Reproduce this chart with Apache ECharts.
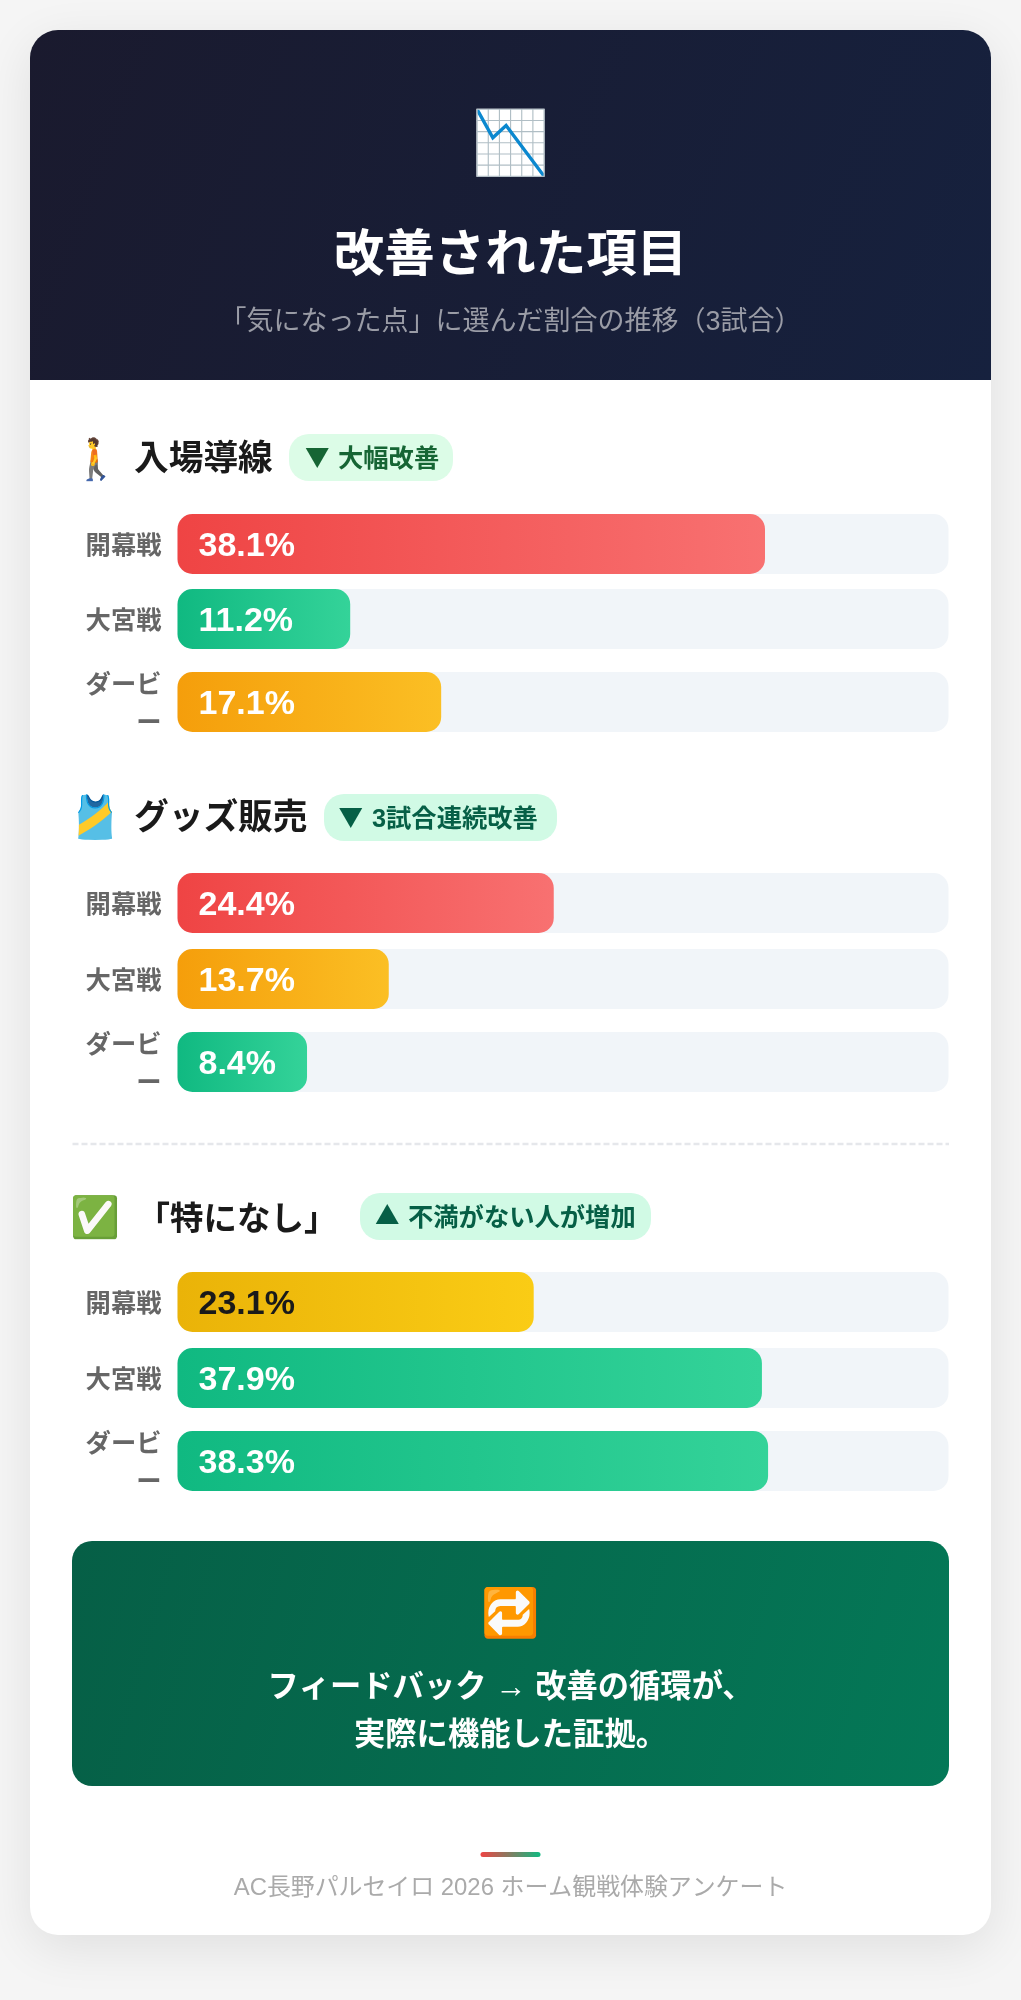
<!DOCTYPE html>
<html lang="ja"><head><meta charset="utf-8">
<style>html,body{margin:0;padding:0;background:#f5f5f5}#c{width:1021px;height:2000px}</style>
<script src="https://cdn.jsdelivr.net/npm/echarts@6/dist/echarts.min.js"></script>
</head><body><div id="c"></div>
<script>
const matches = ['開幕戦', '大宮戦', 'ダービー'];
const entranceValues = [38.1, 11.2, 17.1];
const goodsValues = [24.4, 13.7, 8.4];
const noneValues = [23.1, 37.9, 38.3];
const entranceTones = ['red', 'green', 'orange'];
const goodsTones = ['red', 'orange', 'green'];
const noneTones = ['yellow', 'green', 'green'];
const headerTitle = '改善された項目';
const headerSub = '「気になった点」に選んだ割合の推移（3試合）';
const sectionTitles = ['入場導線', 'グッズ販売', '「特になし」'];
const pillMarks = ['▼', '▼', '▲'];
const pillTexts = ['大幅改善', '3試合連続改善', '不満がない人が増加'];
const summaryLines = ['フィードバック → 改善の循環が、', '実際に機能した証拠。'];
const footerText = 'AC長野パルセイロ 2026 ホーム観戦体験アンケート';

const FONT = '"Liberation Sans","Noto Sans CJK JP",sans-serif';
const CJK = '"Noto Sans CJK JP",sans-serif';
const tones = {
  red: ['#ef4444', '#f87171', '#fff'],
  green: ['#10b981', '#34d399', '#fff'],
  orange: ['#f59e0b', '#fbbf24', '#fff'],
  yellow: ['#eab308', '#facc15', '#1a1a1a']
};
const lin = (a, b, diag) => ({type: 'linear', x: 0, y: 0, x2: 1, y2: diag ? 1 : 0,
  colorStops: [{offset: 0, color: a}, {offset: 1, color: b}]});

const groups = [
  {values: entranceValues, tones: entranceTones, tops: [514, 589, 672]},
  {values: goodsValues, tones: goodsTones, tops: [873, 949, 1032]},
  {values: noneValues, tones: noneTones, tops: [1272, 1348, 1431]}
];
const grid = [], xAxis = [], yAxis = [], series = [];
groups.forEach(g => g.values.forEach((v, i) => {
  const k = grid.length, t = tones[g.tones[i]];
  grid.push({left: 177.5, right: 72.5, top: g.tops[i], height: 60, containLabel: false});
  xAxis.push({gridIndex: k, type: 'value', min: 0, max: 50, show: false});
  yAxis.push({gridIndex: k, type: 'category', data: [matches[i]],
    axisLine: {show: false}, axisTick: {show: false},
    axisLabel: {margin: 16, width: 78, overflow: 'breakAll', align: 'right', lineHeight: 38,
      padding: [5, 0, 0, 0], fontFamily: CJK, fontSize: 25.3, fontWeight: 700, color: '#666'}});
  series.push({type: 'bar', xAxisIndex: k, yAxisIndex: k, data: [v], barWidth: 60, silent: true,
    showBackground: true, backgroundStyle: {color: '#f1f5f9', borderRadius: 15},
    itemStyle: {color: lin(t[0], t[1]), borderRadius: 15},
    label: {show: true, position: 'insideLeft', distance: 21, offset: [0, 2.5], formatter: '{c}%',
      fontFamily: FONT, fontSize: 34, fontWeight: 700, color: t[2]}});
}));

const txt = (s, x, y, size, weight, fill, align) => ({type: 'text', x, y: y + size * 0.1, silent: true,
  style: {text: s, font: `${weight} ${size}px ${FONT}`, fill, textAlign: align || 'center', textVerticalAlign: 'middle'}});
const mark = (s, x, y, fill) => ({type: 'text', x, y, silent: true,
  style: {text: s, font: `700 24.5px ${CJK}`, fill, textAlign: 'left', textVerticalAlign: 'middle'}});
const pill = (x, y, w, fill) => ({type: 'rect', silent: true, shape: {x, y, width: w, height: 47, r: 20}, style: {fill}});

const graphic = [
  {type: 'rect', silent: true, shape: {x: 30, y: 30, width: 961, height: 1905, r: 28},
    style: {fill: '#fff', shadowBlur: 50, shadowOffsetY: 13, shadowColor: 'rgba(0,0,0,0.09)'}},
  {type: 'rect', silent: true, shape: {x: 30, y: 30, width: 961, height: 350, r: [28, 28, 0, 0]},
    style: {fill: lin('#1a1a2e', '#16213e', true)}},
  txt('📉', 510.5, 141, 62, 400, '#fff'),
  txt(headerTitle, 510.5, 252, 50.5, 700, '#fff'),
  txt(headerSub, 510.5, 320, 27, 400, '#9a9ca6'),
  txt('🚶', 96, 458, 40, 400, '#333'),
  txt(sectionTitles[0], 134, 457, 34.7, 700, '#1a1a1a', 'left'),
  pill(289, 434, 164, '#dcfce7'),
  mark(pillMarks[0], 305, 457, '#166534'),
  txt(pillTexts[0], 338, 457, 25.3, 700, '#166534', 'left'),
  txt('🎽', 95, 816, 42, 400, '#333'),
  txt(sectionTitles[1], 134, 816, 34.7, 700, '#1a1a1a', 'left'),
  pill(324, 794, 233, '#d1fae5'),
  mark(pillMarks[1], 338.5, 817, '#065f46'),
  txt(pillTexts[1], 372, 817, 25.3, 700, '#065f46', 'left'),
  {type: 'line', silent: true, shape: {x1: 72.5, y1: 1144, x2: 949, y2: 1144},
    style: {stroke: '#e5e7eb', lineWidth: 2.5, lineDash: [6, 3]}},
  txt('✅', 95, 1216, 40, 400, '#333'),
  txt(sectionTitles[2], 237, 1217, 33.5, 700, '#1a1a1a', 'center'),
  pill(360, 1193, 291, '#d1fae5'),
  mark(pillMarks[2], 375, 1216, '#065f46'),
  txt(pillTexts[2], 408, 1216, 25.3, 700, '#065f46', 'left'),
  {type: 'rect', silent: true, shape: {x: 72, y: 1541, width: 877, height: 245, r: 20},
    style: {fill: lin('#065f46', '#047857', true)}},
  txt('🔁', 510.5, 1611, 47, 400, '#fff'),
  txt(summaryLines[0], 510.5, 1685, 31.3, 700, '#fff'),
  txt(summaryLines[1], 510.5, 1733, 31.3, 700, '#fff'),
  {type: 'rect', silent: true, shape: {x: 480.5, y: 1852, width: 60, height: 5, r: 2.5},
    style: {fill: lin('#ef4444', '#10b981')}},
  txt(footerText, 510.5, 1886, 23.9, 400, '#aaa')
];

const chart = echarts.init(document.getElementById('c'), null, {renderer: 'canvas', width: 1021, height: 2000});
chart.setOption({animation: false, backgroundColor: '#f5f5f5', grid, xAxis, yAxis, series, graphic});
</script></body></html>
